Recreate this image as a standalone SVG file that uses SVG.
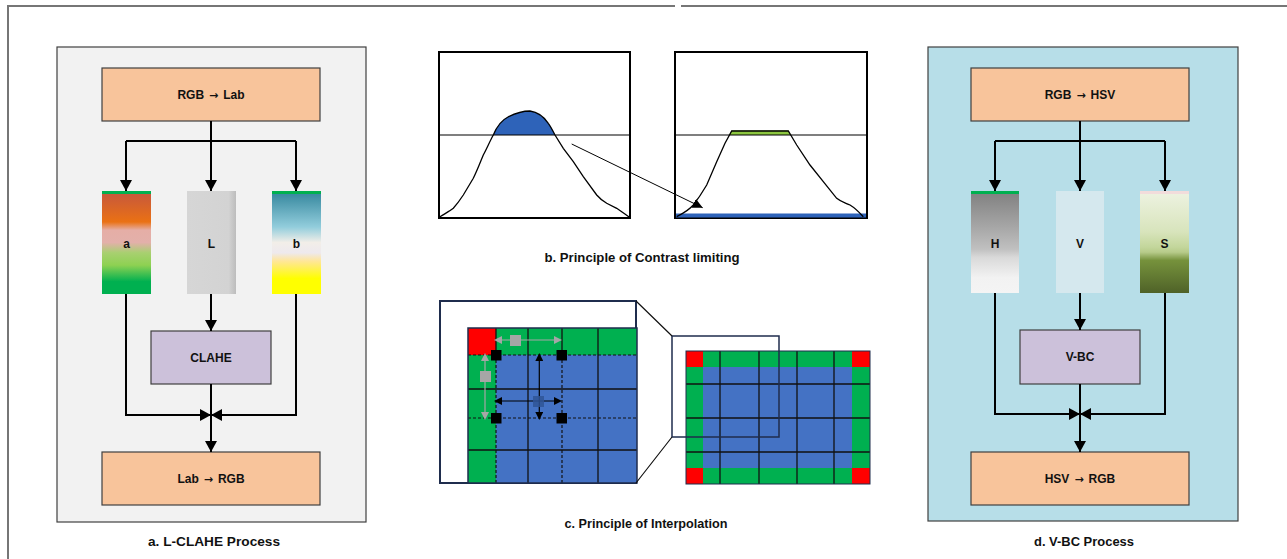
<svg xmlns="http://www.w3.org/2000/svg" width="1287" height="559" viewBox="0 0 1287 559">
<style>
.t{font-family:"Liberation Sans",Arial,sans-serif;font-weight:bold;font-size:12px;fill:#111;text-anchor:middle}
.ar{font-family:"DejaVu Sans",sans-serif;font-size:11px;font-weight:bold}
.cap{font-family:"Liberation Sans",Arial,sans-serif;font-weight:bold;font-size:12.5px;fill:#111;text-anchor:middle}
.panel{stroke:#404040;stroke-width:1.2}
.box{stroke:#404040;stroke-width:1.2}
.peach{fill:#F8C49B}
.lav{fill:#CCC1DA}
.con{fill:none;stroke:#000;stroke-width:2}
.hist{fill:none;stroke:#000;stroke-width:1.3}
.hbox{fill:#fff;stroke:#000;stroke-width:2}
.gl{stroke:#111;stroke-width:1.3}
.gd{stroke:#111;stroke-width:1.2;stroke-dasharray:3 2}
</style>
<defs>
<marker id="ah" markerUnits="userSpaceOnUse" markerWidth="12" markerHeight="12" refX="11" refY="6" orient="auto"><path d="M0,0 L11,6 L0,12 z" fill="#000"/></marker>
<marker id="as" markerUnits="userSpaceOnUse" markerWidth="10" markerHeight="10" refX="10" refY="5" orient="auto"><path d="M0,0 L10,5 L0,10 z" fill="#000"/></marker>
<marker id="ab" markerUnits="userSpaceOnUse" markerWidth="8" markerHeight="8" refX="0" refY="4" orient="auto-start-reverse"><path d="M0,0 L8,4 L0,8 z" fill="#000"/></marker>
<marker id="ag" markerUnits="userSpaceOnUse" markerWidth="8" markerHeight="8" refX="0" refY="4" orient="auto-start-reverse"><path d="M0,0 L8,4 L0,8 z" fill="#A6A6A6"/></marker>
<linearGradient id="ga" x1="0" y1="0" x2="0" y2="1">
<stop offset="0" stop-color="#C4563F"/><stop offset="0.3" stop-color="#EA7114"/><stop offset="0.38" stop-color="#E5AEA6"/><stop offset="0.5" stop-color="#E3B0AA"/><stop offset="0.6" stop-color="#A8D070"/><stop offset="0.72" stop-color="#8ED152"/><stop offset="0.88" stop-color="#00B050"/><stop offset="1" stop-color="#00B050"/>
</linearGradient>
<linearGradient id="gb" x1="0" y1="0" x2="0" y2="1">
<stop offset="0" stop-color="#31849B"/><stop offset="0.35" stop-color="#92CDDC"/><stop offset="0.5" stop-color="#F2EEE8"/><stop offset="0.6" stop-color="#EEE9EE"/><stop offset="0.68" stop-color="#FFE699"/><stop offset="0.85" stop-color="#FFFF00"/><stop offset="1" stop-color="#FFFF00"/>
</linearGradient>
<linearGradient id="gl" x1="0" y1="0" x2="1" y2="0">
<stop offset="0" stop-color="#D6D6D6"/><stop offset="0.85" stop-color="#D3D3D3"/><stop offset="1" stop-color="#BDBDBD"/>
</linearGradient>
<linearGradient id="gh" x1="0" y1="0" x2="0" y2="1">
<stop offset="0" stop-color="#7F7F7F"/><stop offset="0.35" stop-color="#A6A6A6"/><stop offset="0.57" stop-color="#C0C0C0"/><stop offset="0.65" stop-color="#D9D9D9"/><stop offset="0.85" stop-color="#F2F2F2"/><stop offset="1" stop-color="#F4F4F4"/>
</linearGradient>
<linearGradient id="gs" x1="0" y1="0" x2="0" y2="1">
<stop offset="0" stop-color="#EEF3E2"/><stop offset="0.4" stop-color="#D8E4BC"/><stop offset="0.55" stop-color="#C3D69B"/><stop offset="0.6" stop-color="#B7CB8A"/><stop offset="0.68" stop-color="#76923C"/><stop offset="1" stop-color="#4F6228"/>
</linearGradient>
</defs>

<!-- outer frame -->
<g id="frame" stroke="#767676" stroke-width="2" fill="none">
<path d="M8,559 V6 H675 M681,6 H1287"/>
</g>

<!-- panel a -->
<g id="panel-a">
<rect x="57" y="47" width="309" height="475" fill="#F2F2F2" class="panel"/>
</g>
<g id="node-rgb-lab"><rect x="102" y="68" width="218" height="53" class="box peach"/><text x="211" y="98.5" class="t">RGB<tspan class="ar" dx="5">→</tspan><tspan dx="5">Lab</tspan></text></g>
<g id="node-a"><rect x="102" y="191" width="49" height="103" fill="url(#ga)"/><rect x="102" y="191" width="49" height="3" fill="#00B050"/><text x="126.5" y="248" class="t" font-size="13">a</text></g>
<g id="node-L"><rect x="187" y="191" width="49" height="103" fill="url(#gl)"/><text x="211.5" y="248" class="t" font-size="13">L</text></g>
<g id="node-b"><rect x="272" y="191" width="49" height="103" fill="url(#gb)"/><rect x="272" y="191" width="49" height="3" fill="#00B050"/><text x="296.5" y="248" class="t" font-size="13">b</text></g>
<g id="node-clahe"><rect x="151" y="331" width="120" height="53" class="box lav"/><text x="211" y="361.5" class="t">CLAHE</text></g>
<g id="node-lab-rgb"><rect x="102" y="452" width="218" height="53" class="box peach"/><text x="211" y="482.5" class="t">Lab<tspan class="ar" dx="5">→</tspan><tspan dx="5">RGB</tspan></text></g>

<!-- panel d -->
<g id="panel-d">
<rect x="928" y="47" width="310" height="474" fill="#B7DEE8" class="panel"/>
</g>
<g id="node-rgb-hsv"><rect x="971" y="68" width="218" height="53" class="box peach"/><text x="1080" y="98.5" class="t">RGB<tspan class="ar" dx="5">→</tspan><tspan dx="5">HSV</tspan></text></g>
<g id="node-H"><rect x="971" y="191" width="48" height="102" fill="url(#gh)"/><rect x="971" y="191" width="48" height="3" fill="#00B050"/><text x="995" y="248" class="t" font-size="13">H</text></g>
<g id="node-V"><rect x="1056" y="191" width="48" height="102" fill="#D5E8EE"/><text x="1080" y="248" class="t" font-size="13">V</text></g>
<g id="node-S"><rect x="1140" y="191" width="49" height="102" fill="url(#gs)"/><rect x="1140" y="191" width="49" height="3" fill="#F2DCDB"/><text x="1164.5" y="248" class="t" font-size="13">S</text></g>
<g id="node-vbc"><rect x="1020" y="330" width="120" height="54" class="box lav"/><text x="1080" y="361" class="t">V-BC</text></g>
<g id="node-hsv-rgb"><rect x="971" y="452" width="218" height="53" class="box peach"/><text x="1080" y="482.5" class="t">HSV<tspan class="ar" dx="5">→</tspan><tspan dx="5">RGB</tspan></text></g>

<!-- connectors -->
<g id="connectors">
<path class="con" d="M211,121 V141 M126,141 H296"/>
<path class="con" d="M126,141 V191" marker-end="url(#ah)"/>
<path class="con" d="M211,141 V191" marker-end="url(#ah)"/>
<path class="con" d="M296,141 V191" marker-end="url(#ah)"/>
<path class="con" d="M211,294 V331" marker-end="url(#ah)"/>
<path class="con" d="M126,294 V415 H211" marker-end="url(#ah)"/>
<path class="con" d="M296,294 V415 H211" marker-end="url(#ah)"/>
<path class="con" d="M211,384 V452" marker-end="url(#ah)"/>

<path class="con" d="M1080,121 V141 M995,141 H1165"/>
<path class="con" d="M995,141 V191" marker-end="url(#ah)"/>
<path class="con" d="M1080,141 V191" marker-end="url(#ah)"/>
<path class="con" d="M1165,141 V191" marker-end="url(#ah)"/>
<path class="con" d="M1080,293 V330" marker-end="url(#ah)"/>
<path class="con" d="M995,293 V414 H1080" marker-end="url(#ah)"/>
<path class="con" d="M1165,293 V414 H1080" marker-end="url(#ah)"/>
<path class="con" d="M1080,384 V452" marker-end="url(#ah)"/>
</g>

<!-- b. contrast limiting -->
<g id="hist-1">
<rect x="439" y="52" width="191" height="166" class="hbox"/>
<path d="M493.3,135 C497,126 502,120 508,117 C516,113 524,111 530,111 C537,112 544,117 548.3,123.3 C551,127 553,131 555,135 Z" fill="#2E63B9"/>
<line x1="439" y1="135" x2="630" y2="135" stroke="#000" stroke-width="1.2"/>
<path class="hist" d="M440,216.7 C446,213 450,211 453.3,208.3 C458,203 460,200 463.3,195 L473.3,178.3 C477,171 480,163 483.3,155 C487,148 490,141 493.3,135 C497,126 502,120 508,117 C516,113 524,111 530,111 C537,112 544,117 548.3,123.3 C551,127 553,131 555,135 L563.3,148.3 L573.3,161.7 L583.3,176.7 L596.7,195 C600,199 603,201 606.7,203.3 L616.7,208.3 C621,211 626,215 630,217.7"/>
</g>
<g id="hist-2">
<rect x="675" y="52" width="192" height="166" class="hbox"/>
<rect x="676" y="213.5" width="190" height="4" fill="#2E63B9"/>
<path d="M731.7,130.5 L788.3,130.5 L791,135 L729,135 Z" fill="#8CC63F"/>
<line x1="675" y1="135" x2="867" y2="135" stroke="#000" stroke-width="1.2"/>
<path class="hist" d="M676.7,216.7 C684,213 689,210 693.3,205 C698,199 702,193 706.7,185 L716.7,161.7 L725,143.3 L731.7,131 L788.3,131 L796.7,145 L810,165 L823.3,181.7 L836.7,198.3 C841,202 846,203 850,205 C855,208 859,212 863.3,216.7"/>
</g>
<g id="hist-arrow">
<line x1="571.7" y1="144" x2="702.7" y2="207.7" stroke="#000" stroke-width="1" marker-end="url(#as)"/>
</g>
<text x="642" y="262" class="cap" textLength="195" lengthAdjust="spacingAndGlyphs">b.  Principle of Contrast limiting</text>

<!-- c. interpolation -->
<g id="interp-left">
<rect x="440" y="301" width="196" height="182" fill="#fff" stroke="#1F2D4D" stroke-width="2"/>
<rect x="468" y="328" width="169" height="155" fill="#4472C4"/>
<rect x="468" y="328" width="169" height="27" fill="#00B050"/>
<rect x="468" y="328" width="28" height="155" fill="#00B050"/>
<rect x="468" y="328" width="28" height="27" fill="#FF0000"/>
<path class="gl" d="M528,328 V483 M598,328 V483 M468,389 H637 M468,450 H637 M496,328 V355 M562,328 V355"/>
<path class="gd" d="M468,355 H637 M468,418 H637 M496,355 V483 M562,355 V483"/>
<rect x="468" y="328" width="169" height="155" fill="none" stroke="#1F2D4D" stroke-width="1.5"/>
<line x1="502" y1="340" x2="554" y2="340" stroke="#A6A6A6" stroke-width="1.2" marker-start="url(#ag)" marker-end="url(#ag)"/>
<rect x="510" y="335" width="11" height="11" fill="#A6A6A6"/>
<line x1="485" y1="361" x2="485" y2="412" stroke="#A6A6A6" stroke-width="1.2" marker-start="url(#ag)" marker-end="url(#ag)"/>
<rect x="480" y="371" width="11" height="11" fill="#A6A6A6"/>
<line x1="539.3" y1="361" x2="539.3" y2="412" stroke="#000" stroke-width="1.2" marker-start="url(#ab)" marker-end="url(#ab)"/>
<line x1="502" y1="401" x2="554" y2="401" stroke="#000" stroke-width="1.2" marker-start="url(#ab)" marker-end="url(#ab)"/>
<rect x="533" y="396" width="11" height="11" fill="#2F5597" opacity="0.85"/>
<rect x="491" y="350" width="10.5" height="10.5" fill="#000"/>
<rect x="556.5" y="350" width="10.5" height="10.5" fill="#000"/>
<rect x="491" y="413" width="10.5" height="10.5" fill="#000"/>
<rect x="556.5" y="413" width="10.5" height="10.5" fill="#000"/>
</g>
<g id="interp-right">
<rect x="686" y="351" width="184" height="133" fill="#00B050"/>
<rect x="703" y="367" width="149" height="101" fill="#4472C4"/>
<rect x="686" y="351" width="17" height="16" fill="#FF0000"/>
<rect x="852" y="351" width="18" height="16" fill="#FF0000"/>
<rect x="686" y="468" width="17" height="16" fill="#FF0000"/>
<rect x="852" y="468" width="18" height="16" fill="#FF0000"/>
<path class="gl" d="M720,351 V484 M759,351 V484 M797,351 V484 M834,351 V484 M686,384 H870 M686,418 H870 M686,452 H870"/>
<rect x="686" y="351" width="184" height="133" fill="none" stroke="#1F2D4D" stroke-width="1"/>
<rect x="672" y="336" width="107" height="101" fill="none" stroke="#1F2D4D" stroke-width="1.5"/>
<path d="M636,301 L672,336 M636,483 L672,437" stroke="#111" stroke-width="1.2" fill="none"/>
</g>
<text x="646" y="528" class="cap" textLength="163" lengthAdjust="spacingAndGlyphs">c. Principle of Interpolation</text>

<text x="214" y="546" class="cap" textLength="132" lengthAdjust="spacingAndGlyphs">a. L-CLAHE Process</text>
<text x="1084" y="546" class="cap" textLength="100" lengthAdjust="spacingAndGlyphs">d. V-BC Process</text>
</svg>
